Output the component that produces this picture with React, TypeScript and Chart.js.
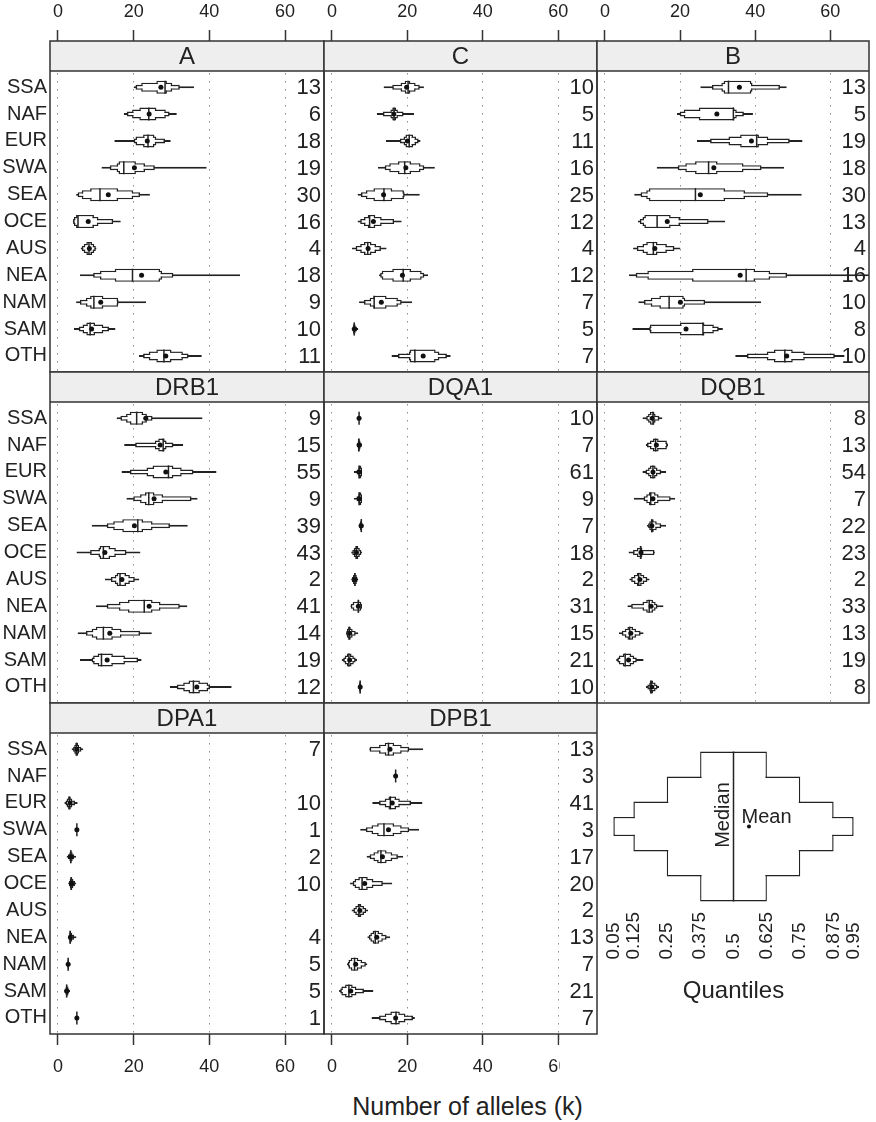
import React, { useEffect, useRef } from 'react';
import { Chart, registerables } from 'chart.js';

Chart.register(...registerables);

const FONT = '"Liberation Sans", Arial, Helvetica, sans-serif';
Chart.defaults.font.family = FONT;

const INK = '#222222';
const LINE = '#222222';
const FRAME = '#333333';
const GRID = '#8f8f8f';
const STRIP_BG = '#eeeeee';

// ---------------- data ----------------
const REGIONS = ['SSA', 'NAF', 'EUR', 'SWA', 'SEA', 'OCE', 'AUS', 'NEA', 'NAM', 'SAM', 'OTH'];
const X_TICKS = [0, 20, 40, 60];
const X_MIN = -2.1;
const X_MAX = 70.3;
const QUANTILE_PROBS = [0.05, 0.125, 0.25, 0.375, 0.5, 0.625, 0.75, 0.875, 0.95];
const QUANTILE_LABELS = ['0.05', '0.125', '0.25', '0.375', '0.5', '0.625', '0.75', '0.875', '0.95'];
const LEGEND_MEAN = 0.558;

// each row: [q0.05, q0.125, q0.25, q0.375, median, q0.625, q0.75, q0.875, q0.95, mean]
const A_STATS = [
  [20, 20.5, 22, 26, 28.3, 28.8, 30.2, 32.2, 36, 27.2],
  [17.4, 18.2, 19.6, 21.5, 24, 26, 28.5, 29.5, 31.4, 24.1],
  [14.9, 20, 20.5, 22.5, 23.8, 25.5, 26, 28.3, 29.8, 23.6],
  [11.5, 13.7, 15.5, 16, 17.4, 20.6, 23, 25.6, 39.3, 20.2],
  [4.8, 5.2, 6.3, 8.5, 11.1, 15.9, 19.9, 21.7, 24.3, 13.3],
  [3.9, 4.0, 4.2, 4.8, 5.3, 9.5, 10.7, 14.6, 16.6, 8.0],
  [6.0, 6.3, 6.8, 7.5, 8.2, 9, 9.6, 10, 10.2, 8.3],
  [5.8, 9.3, 11.1, 15, 19.7, 27, 27.5, 30.5, 48.1, 22.1],
  [4.8, 5.8, 7.4, 8.5, 9.5, 12, 15.9, 16, 23.3, 11.3],
  [4.2, 5.5, 6.5, 7.5, 8.5, 9.8, 12, 13.5, 15.2, 8.9],
  [21.4, 22.5, 24, 26, 28, 30, 33, 34.5, 38, 28.5],
];
const A_N = [13, 6, 18, 19, 30, 16, 4, 18, 9, 10, 11];

const C_STATS = [
  [13.7, 16, 18.2, 19.3, 20.2, 20.8, 22.2, 23.3, 24.4, 19.8],
  [11.9, 13.5, 15.5, 16, 16.5, 17, 17.5, 19, 21.8, 16.4],
  [14.3, 18, 19, 19.5, 20.5, 21.5, 22.3, 23, 23.5, 20],
  [12.2, 14, 15.2, 17.5, 19.3, 21, 23.5, 24.5, 27.3, 19.6],
  [6.8, 7.7, 9, 11, 13.8, 16, 19.1, 19.3, 23.3, 13.7],
  [6.8, 7.5, 8.5, 9.5, 10, 11.5, 13.2, 16.5, 18.5, 11],
  [5.3, 6.3, 7.5, 8.5, 9.5, 10.5, 11.7, 13, 14.5, 9.6],
  [12.5, 12.8, 13.2, 16, 18.9, 21, 23.8, 24.5, 25.5, 18.7],
  [7.2, 8.5, 10, 11, 11.2, 14.5, 17.5, 18.5, 21.3, 13.1],
  [5.2, 5.4, 5.6, 5.8, 5.9, 6.1, 6.3, 6.6, 7.0, 6.0],
  [15.8, 17.5, 20.4, 20.6, 22, 27.5, 28.5, 30.5, 31.5, 24.2],
];
const C_N = [10, 5, 11, 16, 25, 12, 4, 12, 7, 5, 7];

const B_STATS = [
  [25.4, 28.5, 31, 31.6, 32.9, 39, 39.3, 46.6, 48.4, 35.8],
  [19.2, 19.9, 21, 25, 34.2, 34.5, 35.1, 37, 39.4, 29.8],
  [24.5, 28, 32.9, 36, 40.4, 41, 43.5, 49.2, 52.6, 39],
  [13.8, 19.4, 21.4, 24, 27.6, 30, 36.9, 41.7, 47.7, 29],
  [7.8, 9.5, 11, 11.7, 24.1, 32, 37.3, 43.5, 52.4, 25.4],
  [8.8, 9.3, 10, 10.5, 13.9, 17.5, 20, 27.6, 32, 16.6],
  [7.5, 8.5, 10, 11, 12.9, 14, 16.5, 18.5, 20.1, 13.3],
  [6.4, 8.2, 11.3, 23.2, 37.6, 40, 44, 48.5, 76, 36],
  [8.9, 10.4, 12.2, 14.5, 17.1, 21, 21.4, 26.7, 41.6, 20.1],
  [7.3, 11.8, 12, 20, 26.1, 26.5, 29, 30.3, 31.4, 21.6],
  [34.7, 37.8, 43.1, 45, 47.9, 50, 53.2, 61.2, 63.8, 48.4],
];
const B_N = [13, 5, 19, 18, 30, 13, 4, 16, 10, 8, 10];

const DRB1_STATS = [
  [15.5, 16.5, 18, 19, 20.8, 22.5, 23.5, 25, 38.2, 23.2],
  [17.5, 20.4, 25.6, 26.5, 27.8, 28.2, 28.7, 30.5, 33.1, 27],
  [16.8, 19, 23.4, 25, 29.2, 30.5, 32.7, 35.8, 41.9, 28.5],
  [18.1, 19.9, 21.7, 23, 24, 25.5, 27.8, 35.3, 36.9, 25.4],
  [8.9, 12.9, 14.6, 17, 21.1, 22.5, 25, 29.6, 34.3, 20.2],
  [4.9, 8.5, 10.7, 11, 12, 13.8, 15.3, 18.1, 21.8, 12.4],
  [12.4, 14, 15, 15.5, 16.4, 18, 19, 20.3, 21.5, 16.9],
  [10, 12.9, 16.1, 18.5, 22.8, 25, 27.1, 32.2, 34.2, 24.1],
  [5.2, 7.4, 8.9, 10, 12, 14.5, 16.8, 21.7, 24.8, 13.7],
  [5.8, 8.9, 9.3, 10.5, 11.5, 14.5, 17.7, 21.2, 22.1, 13],
  [29.6, 31.4, 33.1, 34.5, 35.8, 37.5, 39.7, 40.2, 45.9, 36.7],
];
const DRB1_N = [9, 15, 55, 9, 39, 43, 2, 41, 14, 19, 12];

const DQA1_STATS = [
  [7.2, 7.2, 7.2, 7.2, 7.2, 7.2, 7.2, 7.2, 7.2, 7.2],
  [6.6, 6.7, 6.9, 7, 7.1, 7.4, 7.6, 7.9, 8, 7.2],
  [5.8, 6.5, 7, 7.1, 7.2, 7.8, 8, 8, 8, 7.3],
  [5.8, 6.5, 7, 7.1, 7.2, 7.8, 8, 8, 8, 7.3],
  [7, 7.2, 7.4, 7.6, 7.8, 8, 8, 8.1, 8.1, 7.8],
  [5.1, 5.4, 5.8, 6.2, 6.5, 7, 7.4, 7.8, 8, 6.5],
  [5.1, 5.3, 5.6, 5.9, 6.1, 6.3, 6.6, 6.8, 7, 6.1],
  [4.9, 5, 5.5, 6.8, 7, 7.3, 7.8, 8, 8, 7],
  [3.7, 3.8, 4, 4.3, 4.6, 5, 5.5, 6.3, 7, 4.7],
  [2.6, 3, 3.4, 4, 4.5, 5.2, 5.8, 6.3, 6.7, 4.7],
  [7, 7.1, 7.2, 7.3, 7.5, 7.6, 7.7, 7.8, 7.8, 7.5],
];
const DQA1_N = [10, 7, 61, 9, 7, 18, 2, 31, 15, 21, 10];

const DQB1_STATS = [
  [10, 11, 11.5, 12, 12.8, 13.2, 13.5, 14.5, 15.3, 12.6],
  [10.9, 11.2, 12, 12.8, 13.5, 14.3, 16.5, 16.7, 16.8, 13.7],
  [10, 10.8, 11.5, 12, 12.8, 13.5, 14, 15, 16.3, 12.8],
  [7.7, 10.3, 11, 11.7, 12.2, 13.5, 14.3, 17.5, 18.7, 12.8],
  [11.2, 11.5, 11.8, 12.2, 12.5, 13, 13.8, 15, 16.3, 12.5],
  [6.3, 7.5, 8.5, 9.3, 9.5, 9.8, 10, 13.2, 13.3, 9.6],
  [6.5, 7, 7.7, 8.5, 9, 9.8, 10.5, 11.3, 11.9, 9.3],
  [6, 7, 10, 11, 11.8, 12.8, 13.5, 14, 15.6, 12.3],
  [3.7, 4.5, 5.3, 6, 6.6, 7.5, 8.3, 9.5, 10.3, 6.9],
  [3, 3.3, 3.7, 4.8, 5.4, 7, 7.8, 8.5, 10.3, 6.3],
  [10.9, 11.3, 11.8, 12, 12.3, 12.8, 13.5, 14, 14.4, 12.5],
];
const DQB1_N = [8, 13, 54, 7, 22, 23, 2, 33, 13, 19, 8];

const DPA1_STATS = [
  [3.6, 4, 4.3, 4.6, 4.9, 5.3, 5.6, 6.2, 6.7, 5],
  null,
  [1.7, 2, 2.3, 2.7, 3, 3.4, 3.8, 4.5, 5.2, 3.2],
  [5, 5, 5, 5, 5, 5, 5, 5, 5, 5],
  [2.3, 2.6, 3, 3.2, 3.4, 3.6, 3.9, 4.3, 4.8, 3.4],
  [2.7, 2.9, 3.1, 3.3, 3.5, 3.8, 4.1, 4.5, 4.8, 3.6],
  null,
  [2.7, 2.8, 3, 3.1, 3.2, 3.5, 3.8, 4.3, 4.9, 3.3],
  [2.3, 2.4, 2.5, 2.6, 2.7, 2.8, 2.9, 3, 3.1, 2.7],
  [1.7, 1.8, 2, 2.1, 2.3, 2.5, 2.8, 3, 3.2, 2.3],
  [5, 5, 5, 5, 5, 5, 5, 5, 5, 5],
];
const DPA1_N = [7, null, 10, 1, 2, 10, null, 4, 5, 5, 1];

const DPB1_STATS = [
  [9.9, 10, 12.5, 14, 15, 16.5, 18.5, 20.5, 24.2, 15.4],
  [16.9, 16.9, 16.9, 16.9, 16.9, 16.9, 16.9, 16.9, 16.9, 16.9],
  [10.7, 12.5, 14, 15, 15.5, 17, 18, 21, 24, 16],
  [7.5, 9, 10.5, 12, 13.8, 16.5, 18.5, 20.5, 23.1, 15],
  [9.2, 10, 11, 12, 13, 14.5, 16, 17.5, 18.9, 13.4],
  [4.8, 5.5, 6, 7, 8, 9.5, 11, 13.5, 16, 8.7],
  [5.2, 5.7, 6.2, 6.8, 7.2, 7.8, 8.5, 9.1, 9.6, 7.4],
  [9.4, 9.8, 10.2, 10.8, 11.5, 12.5, 13.5, 14.5, 15.4, 11.9],
  [4, 4.2, 4.4, 5, 6, 7, 8, 9, 9.4, 6.3],
  [1.9, 2.2, 2.5, 3.5, 4.5, 5.5, 6.5, 8.5, 11, 5],
  [10.5, 12.5, 14, 15.5, 17, 18, 19.5, 21.5, 22, 16.9],
];
const DPB1_N = [13, 3, 41, 3, 17, 20, 2, 13, 7, 21, 7];

const PANELS = [
  { gene: 'A', stats: A_STATS, counts: A_N, row: 0, col: 0 },
  { gene: 'C', stats: C_STATS, counts: C_N, row: 0, col: 1 },
  { gene: 'B', stats: B_STATS, counts: B_N, row: 0, col: 2 },
  { gene: 'DRB1', stats: DRB1_STATS, counts: DRB1_N, row: 1, col: 0 },
  { gene: 'DQA1', stats: DQA1_STATS, counts: DQA1_N, row: 1, col: 1 },
  { gene: 'DQB1', stats: DQB1_STATS, counts: DQB1_N, row: 1, col: 2 },
  { gene: 'DPA1', stats: DPA1_STATS, counts: DPA1_N, row: 2, col: 0 },
  { gene: 'DPB1', stats: DPB1_STATS, counts: DPB1_N, row: 2, col: 1 },
];

// ---------------- layout / style ----------------
const COL_L = [50, 324, 597];
const COL_R = [324, 597, 869];
const ROW_T = [41, 372, 703];
const PANEL_H = 331;
const STRIP_H = 30;
const LEVELS: [number, number][] = [[0, 8], [1, 7], [2, 6], [3, 5]];
const BOX_THICK = [2, 5, 9, 13];
const LEGEND_THICK = [19, 50, 100, 150];
const BOX_LW = 1.5;
const LEGEND_CLIP_X = 559.5;
const LEGEND_CLIP_Y = 1040;

function innerFill(c: any) {
  const p = c.parsed;
  const sc = c.chart && c.chart.scales ? c.chart.scales.x : null;
  if (!p || !p._custom || !sc) return 'rgba(255,255,255,0)';
  const w = Math.abs(sc.getPixelForValue(p._custom.barEnd) - sc.getPixelForValue(p._custom.barStart));
  return w > 2 * BOX_LW + 0.2 ? '#ffffff' : 'rgba(255,255,255,0)';
}

function makeBoxSets(rows: { y: number; s: number[] }[], thick: number[]) {
  const sets: any[] = [];
  LEVELS.forEach(([lo, hi], k) => {
    sets.push({
      type: 'bar',
      order: 4,
      grouped: false,
      barThickness: thick[k],
      data: rows.map((r) => ({ y: r.y, x: [r.s[lo], r.s[hi]] })),
      backgroundColor: '#ffffff',
      borderColor: LINE,
      borderWidth: BOX_LW,
      borderSkipped: false,
      inflateAmount: 0,
    });
    if (thick[k] > 2 * BOX_LW + 0.5) {
      sets.push({
        type: 'bar',
        order: 3,
        grouped: false,
        barThickness: thick[k],
        data: rows.map((r) => ({ y: r.y, x: [r.s[lo], r.s[hi]] })),
        backgroundColor: innerFill,
        borderWidth: 0,
        borderSkipped: false,
        inflateAmount: -BOX_LW,
      });
    }
  });
  return sets;
}

function markerSets(rows: { y: number; s: number[] }[], medianLen: number, meanR: number) {
  return [
    {
      type: 'scatter',
      order: 2,
      showLine: false,
      data: rows.map((r) => ({ x: r.s[4], y: r.y })),
      pointStyle: 'line',
      pointRotation: 90,
      pointRadius: medianLen / 2,
      pointBorderColor: LINE,
      pointBackgroundColor: LINE,
      pointBorderWidth: BOX_LW,
    },
    {
      type: 'scatter',
      order: 1,
      showLine: false,
      data: rows.map((r) => ({ x: r.s[9], y: r.y })),
      pointStyle: 'circle',
      pointRadius: meanR,
      pointBackgroundColor: '#111111',
      pointBorderWidth: 0,
    },
  ];
}

function PanelChart({ p }: { p: any }) {
  const ref = useRef<HTMLCanvasElement>(null);
  const { row, col } = p;
  const yAxisW = col === 0 ? 50 : 0;
  const padL = col === 0 ? 0 : 14;
  const padR = 14;
  const padT = row === 0 ? 0 : 16;
  const padB = row === 2 ? 0 : 16;
  const xAxisH = row === 0 ? 41 : row === 2 ? 50 : 0;
  const areaW = COL_R[col] - COL_L[col];
  const left = COL_L[col] - yAxisW - padL;
  const top = row === 0 ? ROW_T[0] - xAxisH : ROW_T[row] - padT;
  const width = areaW + yAxisW + padL + padR;
  const height = PANEL_H + padT + padB + (row === 1 ? 0 : xAxisH);
  const clip = row === 2 && col === 1
    ? `polygon(0 0, 100% 0, 100% ${LEGEND_CLIP_Y - top}px, ${LEGEND_CLIP_X - left}px ${LEGEND_CLIP_Y - top}px, ${LEGEND_CLIP_X - left}px 100%, 0 100%)`
    : undefined;

  useEffect(() => {
    if (!ref.current) return;
    const rows = (p.stats as (number[] | null)[])
      .map((s, y) => (s ? { y, s } : null))
      .filter(Boolean) as { y: number; s: number[] }[];
    const unitPx = (PANEL_H - STRIP_H) / (REGIONS.length - 1 + 1.2);
    const yMin = -0.6 - STRIP_H / unitPx;
    const yMax = REGIONS.length - 1 + 0.6;
    const showX = row !== 1;

    const deco = {
      id: 'panelDeco',
      beforeDatasetsDraw(chart: any) {
        const { ctx, chartArea: a, scales } = chart;
        ctx.save();
        ctx.fillStyle = STRIP_BG;
        ctx.fillRect(a.left, a.top, a.right - a.left, STRIP_H);
        ctx.strokeStyle = FRAME;
        ctx.lineWidth = 1.5;
        ctx.beginPath();
        ctx.moveTo(a.left, a.top + STRIP_H);
        ctx.lineTo(a.right, a.top + STRIP_H);
        ctx.stroke();
        ctx.fillStyle = INK;
        ctx.font = `24px ${FONT}`;
        ctx.textAlign = 'center';
        ctx.textBaseline = 'middle';
        ctx.fillText(p.gene, (a.left + a.right) / 2, a.top + STRIP_H / 2 + 1);
        ctx.font = `22px ${FONT}`;
        ctx.textAlign = 'right';
        (p.counts as (number | null)[]).forEach((n, i) => {
          if (n === null || n === undefined) return;
          ctx.fillText(String(n), a.right - 3, scales.y.getPixelForValue(i) + 1);
        });
        ctx.restore();
      },
      afterDatasetsDraw(chart: any) {
        const { ctx, chartArea: a } = chart;
        ctx.save();
        ctx.strokeStyle = FRAME;
        ctx.lineWidth = 1.5;
        ctx.strokeRect(a.left, a.top, a.right - a.left, a.bottom - a.top);
        ctx.restore();
      },
    };

    const chart = new Chart(ref.current, {
      type: 'bar',
      data: {
        datasets: [...makeBoxSets(rows, BOX_THICK), ...markerSets(rows, BOX_THICK[3], 2.5)] as any,
      },
      options: {
        indexAxis: 'y',
        responsive: false,
        animation: false,
        devicePixelRatio: 1,
        events: [],
        layout: { autoPadding: false, padding: { left: padL, right: padR, top: padT, bottom: padB } },
        plugins: {
          legend: { display: false },
          tooltip: { enabled: false },
          title: { display: false },
          colors: { enabled: false },
        } as any,
        scales: {
          x: {
            type: 'linear',
            min: X_MIN,
            max: X_MAX,
            offset: false,
            position: row === 0 ? 'top' : 'bottom',
            afterBuildTicks: (s: any) => {
              s.ticks = X_TICKS.map((value) => ({ value }));
            },
            afterFit: (s: any) => {
              s.height = row === 1 ? 0 : xAxisH;
            },
            ticks: {
              display: showX,
              autoSkip: false,
              minRotation: 0,
              maxRotation: 0,
              padding: row === 0 ? 7 : 11,
              font: { size: 18, family: FONT },
              color: INK,
            },
            grid: {
              display: true,
              offset: false,
              color: GRID,
              lineWidth: 1,
              drawOnChartArea: true,
              drawTicks: showX,
              tickLength: 11,
              tickColor: FRAME,
              tickWidth: 1.5,
            },
            border: { display: false, dash: [1.5, 6.5] },
          },
          y: {
            type: 'linear',
            min: yMin,
            max: yMax,
            reverse: true,
            offset: false,
            display: col === 0,
            afterBuildTicks: (s: any) => {
              s.ticks = REGIONS.map((_, value) => ({ value }));
            },
            afterFit: (s: any) => {
              s.width = yAxisW;
            },
            ticks: {
              autoSkip: false,
              padding: 3,
              font: { size: 20, family: FONT },
              color: INK,
              callback: (v: any) => REGIONS[v] ?? '',
            },
            grid: { display: false, drawTicks: false, offset: false },
            border: { display: false },
          },
        } as any,
      },
      plugins: [deco],
    });
    return () => chart.destroy();
  }, []);

  return (
    <canvas
      ref={ref}
      width={width}
      height={height}
      style={{ position: 'absolute', left, top, width, height, clipPath: clip }}
    />
  );
}

function LegendChart() {
  const ref = useRef<HTMLCanvasElement>(null);
  const left = 586;
  const top = 730;
  const width = 304;
  const height = 276;
  useEffect(() => {
    if (!ref.current) return;
    const rows = [{ y: 0, s: [...QUANTILE_PROBS.slice(0, 9), LEGEND_MEAN] }];
    const maxLen = Math.max(...QUANTILE_LABELS.map((s) => s.length));
    const notes = {
      id: 'legendNotes',
      afterDatasetsDraw(chart: any) {
        const { ctx, scales } = chart;
        const xm = scales.x.getPixelForValue(QUANTILE_PROBS[4]);
        const xMean = scales.x.getPixelForValue(LEGEND_MEAN);
        const yc = scales.y.getPixelForValue(0);
        ctx.save();
        ctx.fillStyle = INK;
        ctx.font = `20px ${FONT}`;
        ctx.translate(xm - 10.5, yc - 11.5);
        ctx.rotate(-Math.PI / 2);
        ctx.textAlign = 'center';
        ctx.textBaseline = 'middle';
        ctx.fillText('Median', 0, 0);
        ctx.restore();
        ctx.save();
        ctx.fillStyle = INK;
        ctx.font = `20px ${FONT}`;
        ctx.textAlign = 'left';
        ctx.textBaseline = 'alphabetic';
        ctx.fillText('Mean', xMean - 7.5, yc - 3.5);
        ctx.restore();
      },
    };
    const chart = new Chart(ref.current, {
      type: 'bar',
      data: {
        datasets: [...makeBoxSets(rows, LEGEND_THICK), ...markerSets(rows, LEGEND_THICK[3], 2)] as any,
      },
      options: {
        indexAxis: 'y',
        responsive: false,
        animation: false,
        devicePixelRatio: 1,
        events: [],
        layout: { autoPadding: false, padding: { left: 14, right: 23, top: 15, bottom: 0 } },
        plugins: {
          legend: { display: false },
          tooltip: { enabled: false },
          title: { display: false },
          colors: { enabled: false },
        } as any,
        scales: {
          x: {
            type: 'linear',
            min: 0,
            max: 1,
            offset: false,
            position: 'bottom',
            afterBuildTicks: (s: any) => {
              s.ticks = QUANTILE_PROBS.map((value) => ({ value }));
            },
            afterFit: (s: any) => {
              s.height = 98;
            },
            ticks: {
              autoSkip: false,
              minRotation: 90,
              maxRotation: 90,
              padding: 4,
              font: { size: 19, family: FONT },
              color: INK,
              callback: (_v: any, i: number) =>
                QUANTILE_LABELS[i] + ' '.repeat(2 * (maxLen - QUANTILE_LABELS[i].length)),
            },
            grid: { display: false, drawTicks: false, offset: false },
            border: { display: false },
            title: {
              display: true,
              text: 'Quantiles',
              font: { size: 24, family: FONT },
              color: INK,
              padding: 0,
            },
          },
          y: {
            type: 'linear',
            min: -1,
            max: 1,
            offset: false,
            display: false,
            grid: { offset: false },
          },
        } as any,
      },
      plugins: [notes],
    });
    return () => chart.destroy();
  }, []);
  return (
    <canvas
      ref={ref}
      width={width}
      height={height}
      style={{ position: 'absolute', left, top, width, height }}
    />
  );
}

export default function App() {
  return (
    <div
      style={{
        position: 'absolute',
        left: 0,
        top: 0,
        width: 876,
        height: 1122,
        overflow: 'hidden',
        background: '#ffffff',
        fontFamily: FONT,
      }}
    >
      {PANELS.map((p) => (
        <PanelChart key={p.gene} p={p} />
      ))}
      <LegendChart />
      <div
        style={{
          position: 'absolute',
          left: 267.5,
          top: 1092,
          width: 400,
          textAlign: 'center',
          fontSize: 25,
          lineHeight: '28px',
          color: INK,
          fontFamily: FONT,
        }}
      >
        Number of alleles (k)
      </div>
    </div>
  );
}
